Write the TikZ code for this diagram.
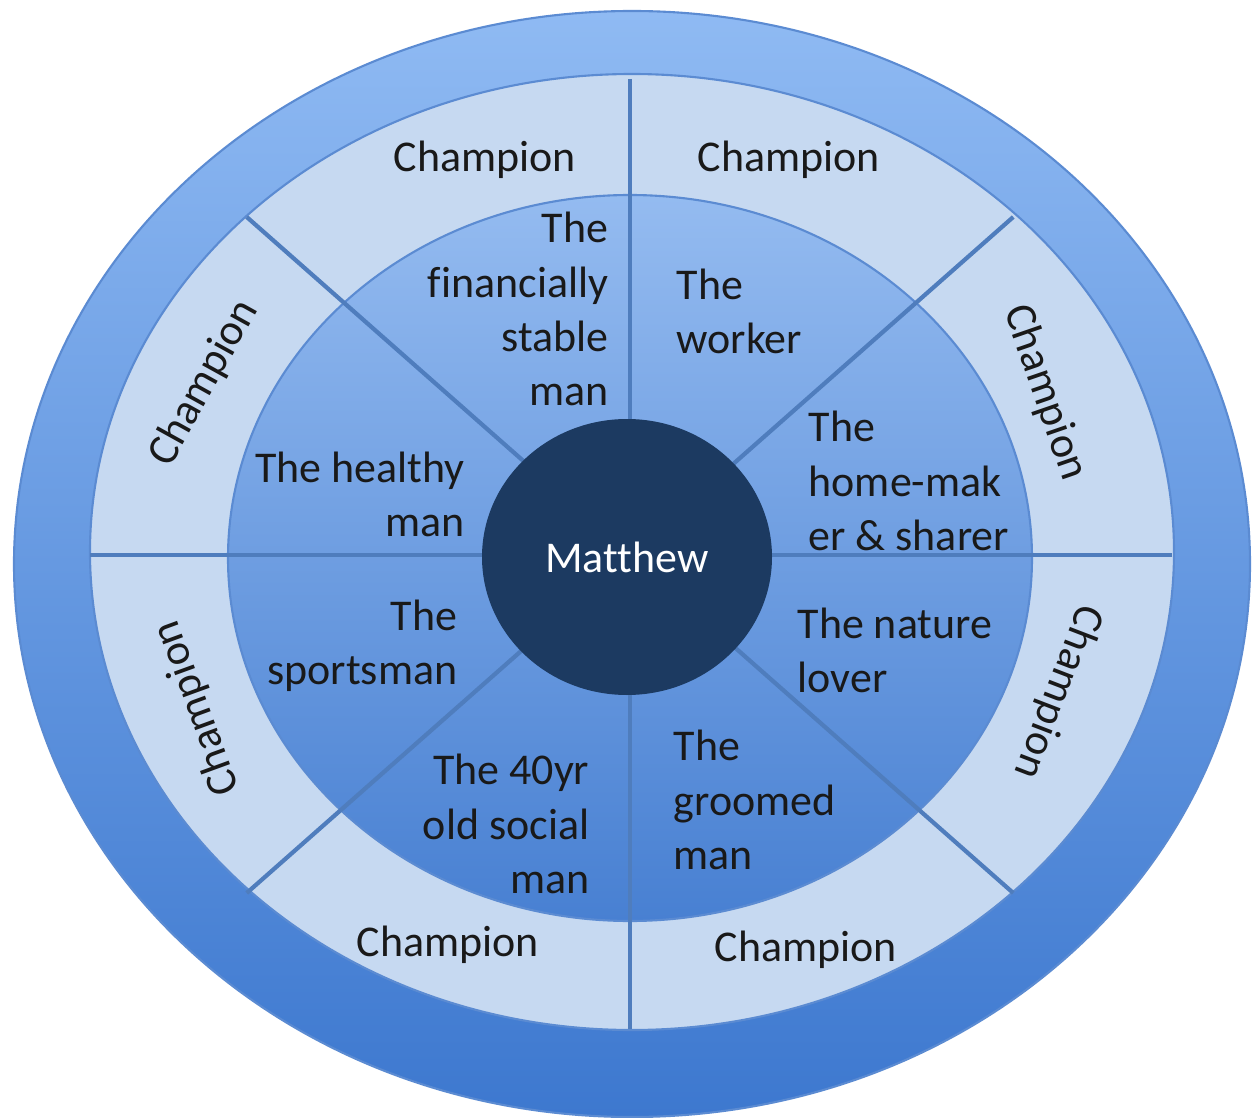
\documentclass[tikz,border=0pt]{standalone}
\usepackage{fontspec}
\setmainfont{Carlito}[Ligatures=NoCommon]
\usetikzlibrary{shapes.geometric}

\definecolor{rimtop}{HTML}{8FBAF3}
\definecolor{rimbot}{HTML}{3D78CF}
\definecolor{bandblue}{HTML}{C6D9F1}
\definecolor{roletop}{HTML}{94BBF0}
\definecolor{rolebot}{HTML}{4880D2}
\definecolor{spokeblue}{HTML}{4F7DBD}
\definecolor{edgeblue}{HTML}{5B8BD2}
\definecolor{hubblue}{HTML}{1C3A61}

\begin{document}
\begin{tikzpicture}[every node/.style={font=\fontsize{12.5}{15.4}\selectfont, text=black!90},
    champ/.style={inner sep=0pt},
    role/.style={inner sep=0pt},
    hub/.style={ellipse, fill=hubblue, text=white, minimum width=2.9cm, minimum height=2.76cm, inner sep=0pt},
    spoke/.style={draw=spokeblue, line width=1.2pt},
    ring/.style={draw=edgeblue, line width=0.6pt}]
  \useasboundingbox (-6.30,-5.62) rectangle (6.23,5.55);
  % three rings, outside in
  \shadedraw[ring, top color=rimtop, bottom color=rimbot] (0.02,-0.09) ellipse (6.18cm and 5.53cm);
  \filldraw[ring, fill=bandblue] (0.02,0.03) ellipse (5.42cm and 4.78cm);
  \shadedraw[ring, top color=roletop, bottom color=rolebot] (0,-0.03) ellipse (4.02cm and 3.63cm);
  % spokes
  \draw[spoke] (90:4.76cm) -- (270:4.74cm);
  \draw[spoke] (0:5.42cm) -- (180:5.40cm);
  \draw[spoke] (45:5.42cm and 4.78cm) -- (225:5.42cm and 4.78cm);
  \draw[spoke] (135:5.42cm and 4.78cm) -- (315:5.42cm and 4.78cm);
  \node[hub] (hub) at (-0.03,-0.02) {Matthew};
  % outer band
  \node[champ] (c1) at (-1.45,3.95) {Champion};
  \node[champ] (c2) at (1.59,3.95) {Champion};
  \node[champ, rotate=-71] (c3) at (4.15,1.62) {Champion};
  \node[champ, rotate=-111] (c4) at (4.28,-1.37) {Champion};
  \node[champ] (c5) at (1.76,-3.95) {Champion};
  \node[champ] (c6) at (-1.82,-3.90) {Champion};
  \node[champ, rotate=110] (c7) at (-4.33,-1.53) {Champion};
  \node[champ, rotate=61] (c8) at (-4.26,1.72) {Champion};
  % inner roles
  \node[role, anchor=east, align=right] (r1) at (-0.21,2.46) {The\\financially\\stable\\man};
  \node[role, anchor=west, align=left] (r2) at (0.46,2.44) {The\\worker};
  \node[role, anchor=west, align=left] (r3) at (1.78,0.74) {The\\home-mak\\er \& sharer};
  \node[role, anchor=west, align=left] (r4) at (1.67,-0.95) {The nature\\lover};
  \node[role, anchor=west, align=left] (r5) at (0.43,-2.45) {The\\groomed\\man};
  \node[role, anchor=east, align=right] (r6) at (-0.40,-2.69) {The 40yr\\old social\\man};
  \node[role, anchor=east, align=right] (r7) at (-1.72,-0.91) {The\\sportsman};
  \node[role, anchor=east, align=right] (r8) at (-1.65,0.61) {The healthy\\man};
\end{tikzpicture}
\end{document}
